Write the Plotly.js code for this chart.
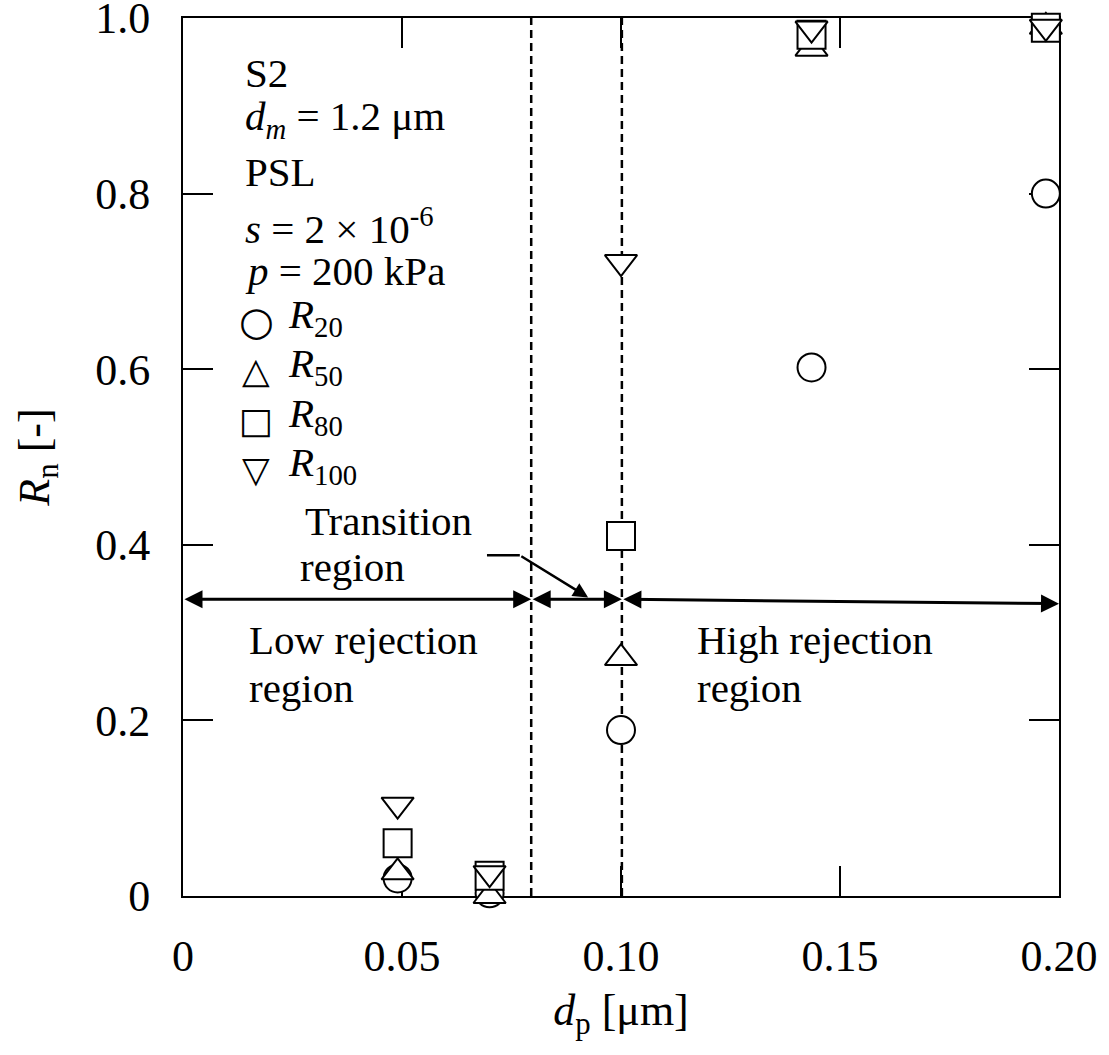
<!DOCTYPE html>
<html>
<head>
<meta charset="utf-8">
<script src="https://cdn.plot.ly/plotly-3.0.1.min.js"></script>
<style>body{margin:0;background:#fff;} #chart{width:1109px;height:1055px;}</style>
</head>
<body>
<div id="chart"></div>
<script>
// ---- data ----
const dp = [0.049, 0.070, 0.100, 0.1435, 0.197];
const R20 = [0.020, 0.003, 0.189, 0.602, 0.800];
const R50 = [0.027, 0.000, 0.271, 0.965, 0.990];
const R80 = [0.060, 0.023, 0.410, 0.981, 0.989];
const R100 = [0.104, 0.026, 0.722, 0.988, 0.990];
const seriesNames = ['R20', 'R50', 'R80', 'R100'];
const seriesLabels = ['<i>R</i><sub>20</sub>', '<i>R</i><sub>50</sub>', '<i>R</i><sub>80</sub>', '<i>R</i><sub>100</sub>'];
const legendGlyphs = ['○', '△', '□', '▽'];
const xTickVals = [0, 0.05, 0.10, 0.15, 0.20];
const xTickText = ['0', '0.05', '0.10', '0.15', '0.20'];
const yTickVals = [0, 0.2, 0.4, 0.6, 0.8, 1.0];
const yTickText = ['0', '0.2', '0.4', '0.6', '0.8', '1.0'];
const boundaries = [0.0795, 0.1002];      // region boundaries (dashed lines)
const arrowLevel = [0.338, 0.338, 0.338, 0.333]; // y of region arrows at 0, 0.08, 0.10, 0.20
const infoLines = ['S2', '<i>d</i><sub><i>m</i></sub> = 1.2 μm', 'PSL', '<i>s</i> = 2 × 10<sup>-6</sup>', '<i>p</i> = 200 kPa'];

const FONT = '"Liberation Serif", "Times New Roman", serif';
const symbols = ['circle', 'triangle-up', 'square', 'triangle-down'];
const ys = [R20, R50, R80, R100];
const traces = ys.map((y, i) => ({
  x: dp, y: y, type: 'scatter', mode: 'markers', name: seriesNames[i],
  cliponaxis: false,
  marker: {symbol: symbols[i], size: 28, color: 'white', line: {color: 'black', width: 2}}
}));

// layout helpers: pixel rows -> paper coordinates
const plotTop = 18, plotBottom = 896, plotLeft = 183, plotRight = 1059;
const py = p => (plotBottom - p) / (plotBottom - plotTop);
const px = p => (p - plotLeft) / (plotRight - plotLeft);

const rowPx = [73, 123, 172, 222, 271, 321, 370, 420, 469];
const annotations = [];
infoLines.forEach((t, i) => annotations.push({
  xref: 'paper', yref: 'paper', x: px(243), y: py(rowPx[i]), xanchor: 'left', yanchor: 'middle',
  yshift: t.indexOf('<sub>') >= 0 ? 4 : (t.indexOf('<sup>') >= 0 ? -4 : 0),
  text: t, showarrow: false, font: {family: FONT, size: 41, color: 'black'}
}));
seriesLabels.forEach((t, i) => {
  annotations.push({
    xref: 'paper', yref: 'paper', x: px(256), y: py(rowPx[5 + i]), xanchor: 'center', yanchor: 'middle',
    text: legendGlyphs[i], showarrow: false,
    font: {family: 'DejaVu Sans', size: i === 0 ? 40 : 36, color: 'black'}
  });
  annotations.push({
    xref: 'paper', yref: 'paper', x: px(286), y: py(rowPx[5 + i]), xanchor: 'left', yanchor: 'middle',
    yshift: 4, text: t, showarrow: false, font: {family: FONT, size: 41, color: 'black'}
  });
});

const regionTexts = [
  ['Transition', 303, 521], ['region', 298, 567],
  ['Low rejection', 247, 640], ['region', 247, 688],
  ['High rejection', 695, 640], ['region', 695, 688]
];
regionTexts.forEach(r => annotations.push({
  xref: 'paper', yref: 'paper', x: px(r[1]), y: py(r[2]), xanchor: 'left', yanchor: 'middle',
  text: r[0], showarrow: false, font: {family: FONT, size: 41, color: 'black'}
}));

// double-headed region arrows
const ax0 = [0, boundaries[0], boundaries[1]];
const ax1 = [boundaries[0], boundaries[1], 0.2];
for (let i = 0; i < 3; i++) {
  annotations.push({
    xref: 'x', yref: 'y', axref: 'x', ayref: 'y',
    x: ax1[i], y: arrowLevel[i + 1], ax: ax0[i], ay: arrowLevel[i],
    text: '', showarrow: true, arrowhead: 2, startarrowhead: 2, arrowside: 'end+start',
    arrowsize: 1.2, startarrowsize: 1.2, arrowwidth: 3, arrowcolor: 'black'
  });
}
// pointer from "Transition region"
annotations.push({
  xref: 'x', yref: 'y', axref: 'x', ayref: 'y',
  x: 0.0925, y: 0.340, ax: 0.0769, ay: 0.388,
  text: '', showarrow: true, arrowhead: 2, arrowsize: 1.2, arrowwidth: 2.5, arrowcolor: 'black'
});

const shapes = boundaries.map(b => ({
  type: 'line', xref: 'x', yref: 'y', x0: b, x1: b, y0: 0, y1: 1, layer: 'below',
  line: {color: 'black', width: 2.5, dash: '8px,5px'}
}));
shapes.push({type: 'line', xref: 'x', yref: 'y', x0: 0.0694, x1: 0.0769, y0: 0.388, y1: 0.388,
  line: {color: 'black', width: 2.5}});

const layout = {
  width: 1109, height: 1055,
  margin: {l: 183, r: 50, t: 18, b: 159},
  paper_bgcolor: 'white', plot_bgcolor: 'white',
  showlegend: false,
  font: {family: FONT, color: 'black'},
  xaxis: {
    range: [0, 0.2], tickvals: xTickVals, ticktext: xTickText,
    ticks: 'inside', ticklen: 30, tickwidth: 2, tickcolor: 'black',
    showline: true, linecolor: 'black', linewidth: 2, mirror: 'ticks',
    showgrid: false, zeroline: false, ticklabeloverflow: 'allow', layer: 'below traces',
    tickfont: {family: FONT, size: 44}, ticklabelstandoff: 20,
    title: {text: '<i>d</i><sub>p</sub> [μm]', font: {family: FONT, size: 44}, standoff: 14}
  },
  yaxis: {
    range: [0, 1], tickvals: yTickVals, ticktext: yTickText,
    ticks: 'inside', ticklen: 30, tickwidth: 2, tickcolor: 'black',
    showline: true, linecolor: 'black', linewidth: 2, mirror: 'ticks',
    showgrid: false, zeroline: false, ticklabeloverflow: 'allow', layer: 'below traces',
    tickfont: {family: FONT, size: 44}, ticklabelstandoff: 22,
    title: {text: '<i>R</i><sub>n</sub> [-]', font: {family: FONT, size: 44}, standoff: 32}
  },
  shapes: shapes,
  annotations: annotations
};

Plotly.newPlot('chart', traces, layout, {displayModeBar: false, staticPlot: true});
</script>
</body>
</html>
